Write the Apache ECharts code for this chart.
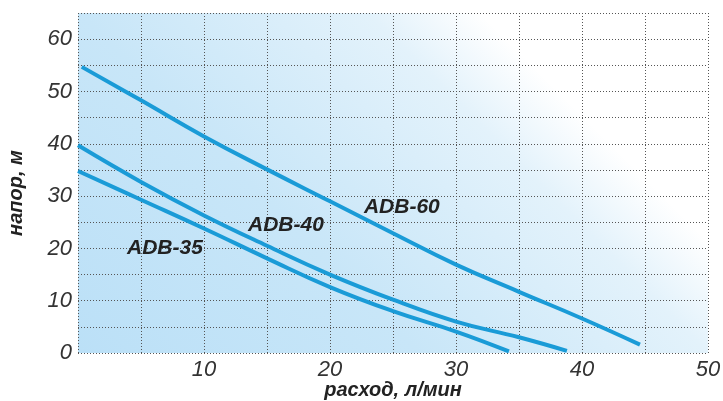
<!DOCTYPE html>
<html>
<head>
<meta charset="utf-8">
<script src="https://cdn.jsdelivr.net/npm/echarts@6/dist/echarts.min.js"></script>
<style>html,body{margin:0;padding:0;background:#fff}#c{width:723px;height:401px}</style>
</head>
<body>
<div id="c"></div>
<script>
var xTicks = [10, 20, 30, 40, 50];
var yTicks = [0, 10, 20, 30, 40, 50, 60];
var adb60 = [[0.3,54.7],[5,48.3],[10,41.4],[15,35.1],[20,29],[25,22.9],[30,16.9],[35,11.7],[40,6.6],[44.6,1.6]];
var adb40 = [[0,39.7],[5,32.7],[10,26.3],[15,20.5],[20,15],[25,10.2],[30,6.0],[35,3.0],[38.8,0.4]];
var adb35 = [[0,34.8],[5,29.3],[10,23.8],[15,18.1],[20,12.6],[25,8.0],[30,4.1],[34.2,0.3]];
var seriesNames = ['ADB-60', 'ADB-40', 'ADB-35'];
var labelPos = [[25.7,27.9],[16.5,24.4],[6.9,20.0]];

var chart = echarts.init(document.getElementById('c'));
var lblStyle = {fontFamily:'Liberation Sans', fontStyle:'italic', fontWeight:'bold', fontSize:21, color:'#222'};
function mk(name, data, pos){
  return {
    type:'line', name:name, data:data, smooth:0.45, showSymbol:false, symbol:'none',
    lineStyle:{color:'#1a9bd7', width:4}, animation:false,
    markPoint:{symbol:'circle', symbolSize:0, data:[{name:name, coord:pos}],
      label:Object.assign({show:true, position:'inside', formatter:'{b}'}, lblStyle)}
  };
}
var tickStyle = {fontFamily:'Liberation Sans', fontStyle:'italic', fontSize:22, color:'#333'};
var gridLine = {show:true, lineStyle:{type:[1,2], color:'#555', width:1}};
chart.setOption({
  animation:false,
  grid:{left:78, right:15, top:13, bottom:48, show:true, borderWidth:0, containLabel:false, outerBoundsMode:'none',
    backgroundColor:{type:'linear', x:78, y:353, x2:449, y2:-18, global:true,
      colorStops:[{offset:0,color:'#bbe0f7'},{offset:0.46,color:'#c8e6f8'},{offset:0.85,color:'#e3f2fb'},{offset:1,color:'#ffffff'}]}},
  xAxis:{type:'value', min:0, max:50, interval:5,
    name:'расход, л/мин', nameLocation:'middle', nameGap:27, nameMoveOverlap:false,
    nameTextStyle:Object.assign({}, lblStyle, {fontSize:20}),
    axisLine:{show:false}, axisTick:{show:false},
    axisLabel:Object.assign({margin:6, formatter:function(v){return xTicks.indexOf(v)>=0 ? String(v) : '';}}, tickStyle),
    splitLine:gridLine},
  yAxis:{type:'value', min:0, max:65, interval:5,
    name:'напор, м', nameLocation:'middle', nameGap:52, nameRotate:90, nameMoveOverlap:false,
    nameTextStyle:Object.assign({}, lblStyle, {fontSize:20, padding:[0,20,0,0]}),
    axisLine:{show:false}, axisTick:{show:false},
    axisLabel:Object.assign({margin:6, formatter:function(v){return yTicks.indexOf(v)>=0 ? String(v) : '';}}, tickStyle),
    splitLine:gridLine},
  series:[mk(seriesNames[0], adb60, labelPos[0]), mk(seriesNames[1], adb40, labelPos[1]), mk(seriesNames[2], adb35, labelPos[2])]
});
</script>
</body>
</html>
